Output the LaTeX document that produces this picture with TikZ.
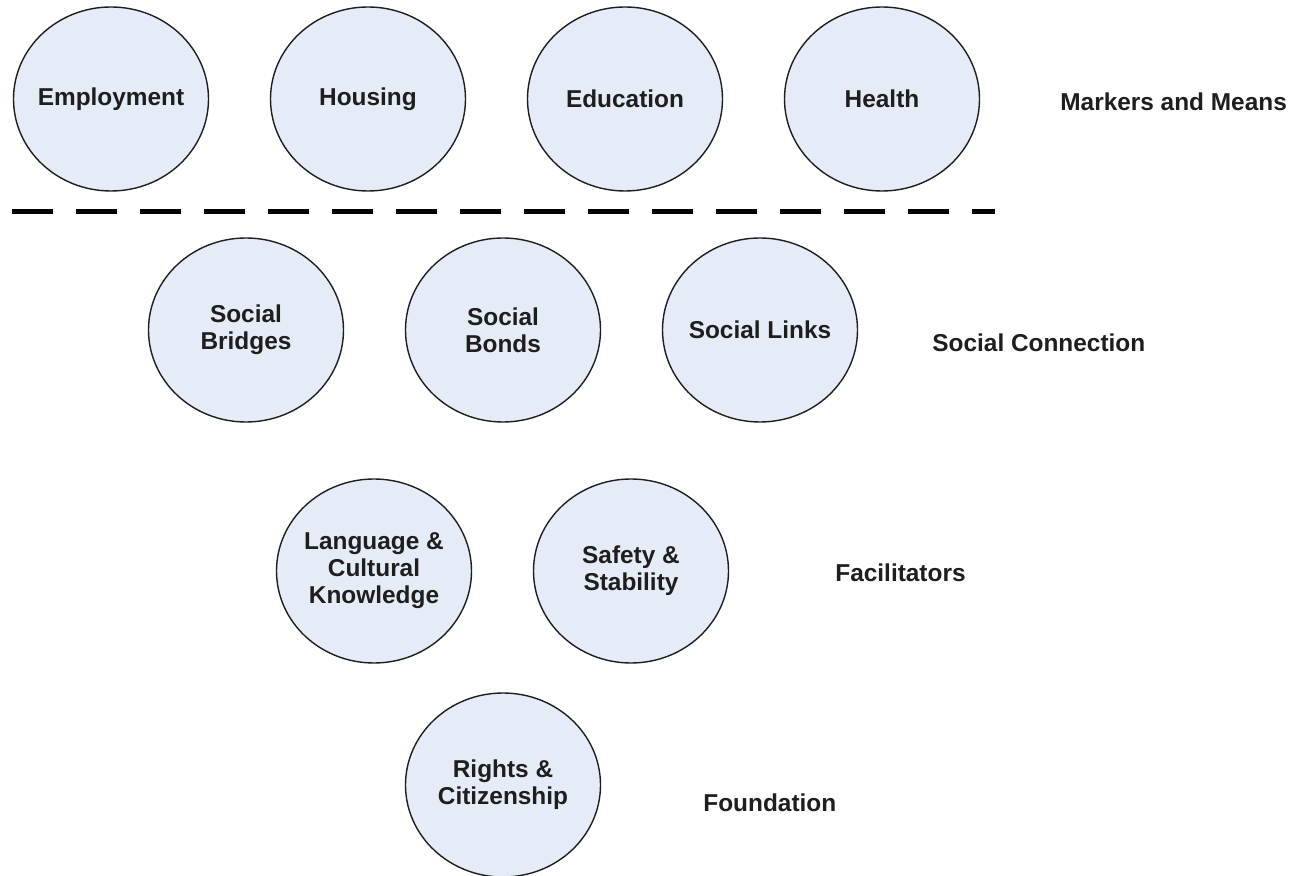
\documentclass[tikz,border=0pt]{standalone}
\usepackage{fontspec}
\setmainfont{Liberation Sans}
\usetikzlibrary{shapes.geometric,positioning}

\definecolor{circfill}{RGB}{230,236,247}
\definecolor{inkgray}{RGB}{30,30,30}

\tikzstyle{factor}=[ellipse, minimum width=97.5pt, minimum height=92pt, inner xsep=-20pt, inner ysep=0pt, align=center, draw=inkgray, line width=0.7pt, fill=circfill, text=inkgray, font=\fontsize{12.2}{13.5}\selectfont\bfseries]
\tikzstyle{tierlabel}=[anchor=west, inner sep=0pt, text=inkgray, font=\fontsize{12.2}{13.5}\selectfont\bfseries]
\tikzstyle{divider}=[line width=2.5pt, dash pattern=on 20.5pt off 11.5pt, black]

\begin{document}
\begin{tikzpicture}[x=0.5pt, y=-0.5pt, node distance=128.5pt]
\useasboundingbox (0,0) rectangle (1295,876);

% markers and means
\node(m0)[factor] at (111,99){Employment};
\node(m1)[factor, right of=m0]{Housing};
\node(m2)[factor, right of=m1]{Education};
\node(m3)[factor, right of=m2]{Health};
\node(l0)[tierlabel] at (1060,102){Markers and Means};

% divider
\coordinate(d0) at (12,212);
\coordinate(d1) at (995,212);
\draw[divider](d0)--(d1);

% social connection
\node(s0)[factor] at (246,330){Social\\Bridges};
\node(s1)[factor, right of=s0]{Social\\Bonds};
\node(s2)[factor, right of=s1]{Social Links};
\node(l1)[tierlabel] at (932,343){Social Connection};

% facilitators
\node(f0)[factor] at (374,571){Language \&\\Cultural\\Knowledge};
\node(f1)[factor, right of=f0]{Safety \&\\Stability};
\node(l2)[tierlabel] at (835,573){Facilitators};

% foundation
\node(r0)[factor] at (503,785){Rights \&\\Citizenship};
\node(l3)[tierlabel] at (703,803){Foundation};

\end{tikzpicture}
\end{document}
